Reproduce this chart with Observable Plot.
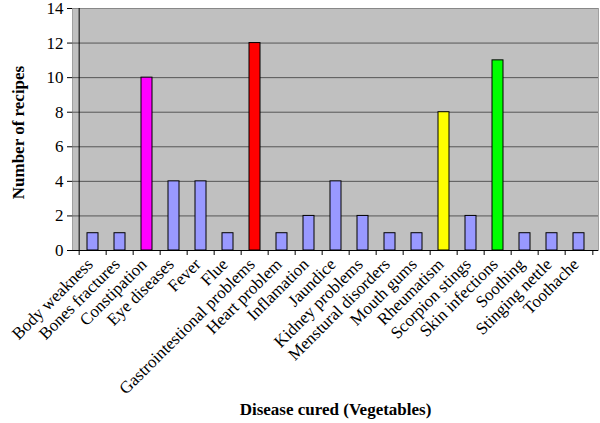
<!DOCTYPE html>
<html>
<head>
<meta charset="utf-8">
<script src="https://cdn.jsdelivr.net/npm/d3@7"></script>
<script src="https://cdn.jsdelivr.net/npm/@observablehq/plot@0.6"></script>
<style>
  body { margin: 0; background: #fff; }
  svg, svg text { font-family: "Liberation Serif", "Times New Roman", serif; }
</style>
</head>
<body>
<div id="chart"></div>
<script>
const diseases = ["Body weakness", "Bones fractures", "Constipation", "Eye diseases", "Fever", "Flue",
  "Gastrointestional problems", "Heart problem", "Inflamation", "Jaundice", "Kidney problems",
  "Menstural disorders", "Mouth gums", "Rheumatism", "Scorpion stings", "Skin infections",
  "Soothing", "Stinging nettle", "Toothache"];
const recipes = [1, 1, 10, 4, 4, 1, 12, 1, 2, 4, 2, 1, 1, 8, 2, 11, 1, 1, 1];
const barColors = ["#9999FF", "#9999FF", "#FF00FF", "#9999FF", "#9999FF", "#9999FF",
  "#FF0000", "#9999FF", "#9999FF", "#9999FF", "#9999FF", "#9999FF", "#9999FF", "#FFFF00",
  "#9999FF", "#00FF00", "#9999FF", "#9999FF", "#9999FF"];
const yTicks = [0, 2, 4, 6, 8, 10, 12, 14];
const xTitle = "Disease cured (Vegetables)";
const yTitle = "Number of recipes";

const data = diseases.map((d, i) => ({disease: d, value: recipes[i], color: barColors[i]}));

const FONT = "Liberation Serif, Times New Roman, serif";
const W = 600, H = 423, mL = 72, mR = 2, mT = 8, mB = 173;
const step = (W - mL - mR) / diseases.length;
const pxPerUnit = (H - mT - mB) / 14;
const tickLen = 5 / pxPerUnit;

const chart = Plot.plot({
  width: W, height: H,
  marginLeft: mL, marginRight: mR, marginTop: mT, marginBottom: mB,
  style: {fontFamily: FONT, background: "#fff", overflow: "visible"},
  x: {type: "band", domain: diseases, paddingInner: 0.6, paddingOuter: 0.3, label: null},
  y: {type: "linear", domain: [0, 14], label: null},
  marks: [
    Plot.frame({fill: "#C0C0C0", stroke: "#A0A0A0"}),
    Plot.ruleY(yTicks.filter(t => t > 0 && t < 14), {stroke: "#555", strokeWidth: 1}),
    Plot.ruleY([14], {stroke: "#888", strokeWidth: 1}),
    Plot.barY(data, {x: "disease", y: "value", fill: "color", stroke: "#000", strokeWidth: 1}),
    Plot.ruleY([0], {stroke: "#000"}),
    Plot.ruleX([diseases[0]], {dx: -step / 2, y1: 0, y2: 14, stroke: "#000"}),
    // x tick marks at band boundaries
    Plot.ruleX(diseases, {x: d => d, dx: -step / 2, y1: 0, y2: -tickLen, stroke: "#000"}),
    Plot.ruleX([diseases[diseases.length - 1]], {dx: step / 2, y1: 0, y2: -tickLen, stroke: "#000"}),
    Plot.axisX({tickSize: 0, tickRotate: -45, fontSize: 17, fontFamily: FONT, tickPadding: 11, dx: -3, label: null, fill: "#000"}),
    Plot.axisY({ticks: yTicks, tickSize: 5, fontSize: 17, fontFamily: FONT, tickPadding: 4, label: null, stroke: "#000", fill: "#000"}),
    Plot.text([yTitle], {frameAnchor: "left", textAnchor: "middle", rotate: -90, dx: -54, dy: 3, fontSize: 17, fontFamily: FONT, fontWeight: "bold", fill: "#000"}),
    Plot.text([xTitle], {frameAnchor: "bottom", dy: 164, fontSize: 17, fontFamily: FONT, fontWeight: "bold", fill: "#000"})
  ]
});
document.getElementById("chart").appendChild(chart);
</script>
</body>
</html>
